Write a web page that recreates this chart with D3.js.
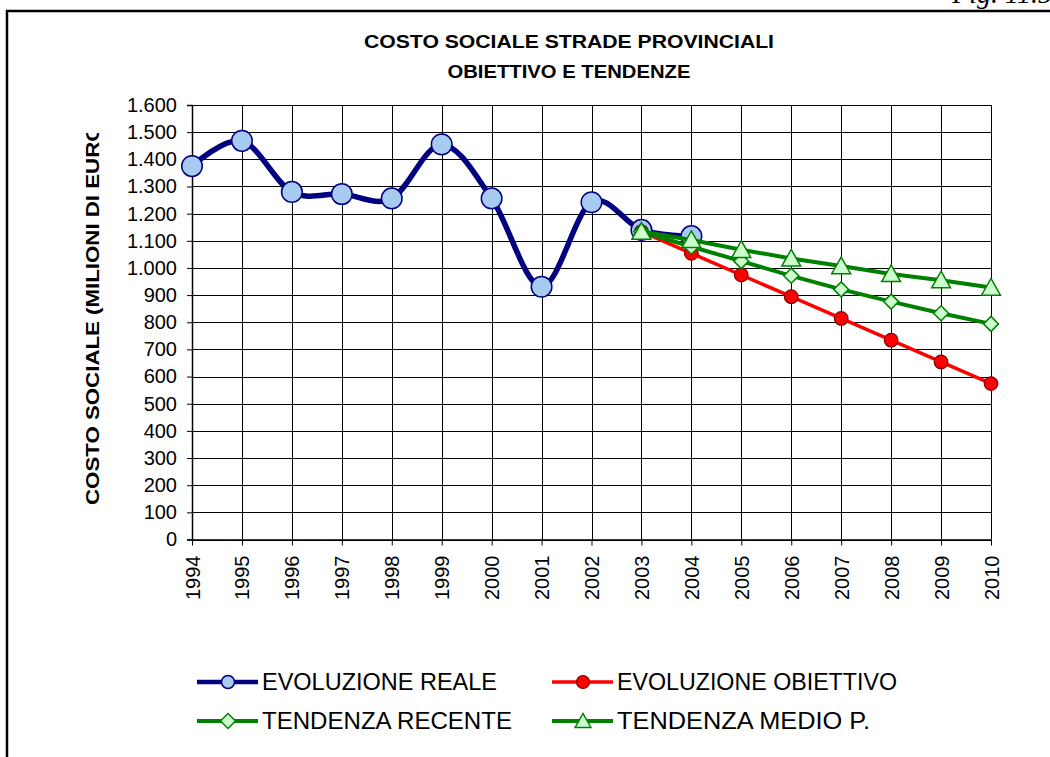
<!DOCTYPE html>
<html>
<head>
<meta charset="utf-8">
<script src="https://cdn.jsdelivr.net/npm/d3@7"></script>
<style>
  body { margin: 0; background: #fff; }
  svg { display: block; font-family: Arial, "Liberation Sans", sans-serif; }
</style>
</head>
<body>
<div id="chart"></div>
<script>
'use strict';

// Categories (x axis)
const years = ['1994', '1995', '1996', '1997', '1998', '1999', '2000', '2001', '2002',
  '2003', '2004', '2005', '2006', '2007', '2008', '2009', '2010'];

// Series values (milioni di euro)
const realeYears = ['1994', '1995', '1996', '1997', '1998', '1999', '2000', '2001', '2002', '2003', '2004'];
const realeValues = [1375, 1468, 1280, 1272, 1256, 1455, 1256, 931, 1242, 1140, 1117];

const forecastYears = ['2003', '2004', '2005', '2006', '2007', '2008', '2009', '2010'];
const obiettivoValues = [1134, 1054, 974, 894, 814, 734, 654, 574];
const recenteValues = [1134, 1078, 1025, 971, 921, 876, 833, 794];
const medioValues = [1134, 1103, 1067, 1035, 1007, 978, 955, 928];

const yTicks = [0, 100, 200, 300, 400, 500, 600, 700, 800, 900, 1000, 1100, 1200, 1300, 1400, 1500, 1600];

const titleLines = ['COSTO SOCIALE STRADE PROVINCIALI', 'OBIETTIVO E TENDENZE'];
const yAxisTitle = 'COSTO SOCIALE (MILIONI DI EURO)';
const legendNames = ['EVOLUZIONE REALE', 'EVOLUZIONE OBIETTIVO', 'TENDENZA RECENTE', 'TENDENZA MEDIO P.'];

const width = 1050;
const height = 757;

const svg = d3.select('#chart').append('svg')
  .attr('width', width)
  .attr('height', height);

// Italian number format: 1.600
const itLocale = d3.formatLocale({ decimal: ',', thousands: '.', grouping: [3], currency: ['', ' €'] });
const fmt = itLocale.format(',d');

// Scales
const x = d3.scalePoint().domain(years).range([192, 991]);
const y = d3.scaleLinear().domain([0, 1600]).range([539.5, 105]);

// Page frame and figure label (cut by the page top, as in the original)
svg.append('text')
  .attr('x', 1052)
  .attr('y', 3)
  .attr('text-anchor', 'end')
  .style('font-family', '"Liberation Serif", "DejaVu Serif", serif')
  .style('font-style', 'italic')
  .style('font-size', '28px')
  .text('Fig. 11.5');

svg.append('path')
  .attr('d', 'M7,' + height + 'V11H' + width)
  .attr('fill', 'none')
  .attr('stroke', '#000')
  .attr('stroke-width', 2.5);

// Title
svg.append('g').selectAll('text')
  .data(titleLines)
  .join('text')
  .attr('x', 569)
  .attr('y', (d, i) => 48 + i * 30)
  .attr('text-anchor', 'middle')
  .style('font-weight', 'bold')
  .style('font-size', '19px')
  .attr('textLength', (d, i) => i === 0 ? 410 : 243)
  .attr('lengthAdjust', 'spacingAndGlyphs')
  .text(d => d);

// Grid
const grid = svg.append('g').attr('class', 'grid');
grid.selectAll('line.h')
  .data(yTicks)
  .join('line')
  .attr('class', 'h')
  .attr('x1', x.range()[0])
  .attr('x2', x.range()[1])
  .attr('y1', d => Math.round(y(d)) + 0.5)
  .attr('y2', d => Math.round(y(d)) + 0.5)
  .attr('stroke', '#000')
  .attr('stroke-width', 1);
grid.selectAll('line.v')
  .data(years.slice(1))
  .join('line')
  .attr('class', 'v')
  .attr('x1', d => Math.round(x(d)) + 0.5)
  .attr('x2', d => Math.round(x(d)) + 0.5)
  .attr('y1', y(1600))
  .attr('y2', y(0))
  .attr('stroke', '#000')
  .attr('stroke-width', 1);

// Y axis
const yAxis = svg.append('g')
  .attr('transform', `translate(${x.range()[0]},0)`)
  .call(d3.axisLeft(y).tickValues(yTicks).tickFormat(fmt).tickSize(5).tickPadding(10));
yAxis.select('.domain').attr('stroke-width', 1.5);
yAxis.selectAll('text').style('font-size', '20px').attr('fill', '#000');

// X axis
const xAxis = svg.append('g')
  .attr('transform', `translate(0,${y(0)})`)
  .call(d3.axisBottom(x).tickSize(6).tickSizeOuter(0));
xAxis.select('.domain').attr('stroke-width', 1.5);
xAxis.selectAll('text')
  .style('font-size', '20px')
  .attr('fill', '#000')
  .attr('transform', 'rotate(-90)')
  .attr('text-anchor', 'end')
  .attr('x', -16)
  .attr('y', 0)
  .attr('dy', '0.35em');

// Y axis title (clipped at the top, as in the original)
svg.append('clipPath').attr('id', 'ytitle-clip')
  .append('rect').attr('x', 0).attr('y', 133).attr('width', 150).attr('height', 500);
svg.append('g')
  .attr('clip-path', 'url(#ytitle-clip)')
  .append('text')
  .attr('transform', 'translate(98.5,505) rotate(-90)')
  .attr('text-anchor', 'start')
  .style('font-weight', 'bold')
  .style('font-size', '18px')
  .attr('textLength', 388)
  .attr('lengthAdjust', 'spacingAndGlyphs')
  .text(yAxisTitle);

// Series
const smoothLine = d3.line().curve(d3.curveCardinal.tension(0));
const straightLine = d3.line();

function toPoints(cats, vals) {
  return cats.map((c, i) => [x(c), y(vals[i])]);
}

const diamond = s => `M0,${-s}L${s},0L0,${s}L${-s},0Z`;
const triangle = s => `M0,${-s}L${s * 1.05},${s * 0.85}L${-s * 1.05},${s * 0.85}Z`;

const series = [
  { name: legendNames[0], pts: toPoints(realeYears, realeValues), line: smoothLine, color: '#000080', width: 5.5,
    marker: { shape: 'circle', r: 10.3, fill: '#a6caf0', stroke: '#000080', sw: 1.5 } },
  { name: legendNames[1], pts: toPoints(forecastYears, obiettivoValues), line: straightLine, color: '#ff0000', width: 3.5,
    marker: { shape: 'circle', r: 6.8, fill: '#ff0000', stroke: '#800000', sw: 1.2 } },
  { name: legendNames[2], pts: toPoints(forecastYears, recenteValues), line: straightLine, color: '#008000', width: 4,
    marker: { shape: 'diamond', r: 7.5, fill: '#ccffcc', stroke: '#008000', sw: 1.5 } },
  { name: legendNames[3], pts: toPoints(forecastYears, medioValues), line: straightLine, color: '#008000', width: 4,
    marker: { shape: 'triangle', r: 9, fill: '#ccffcc', stroke: '#008000', sw: 1.5 } }
];

function drawMarker(g, m) {
  if (m.shape === 'circle') {
    g.append('circle').attr('r', m.r);
  } else if (m.shape === 'diamond') {
    g.append('path').attr('d', diamond(m.r));
  } else {
    g.append('path').attr('d', triangle(m.r));
  }
  g.selectAll('circle, path')
    .attr('fill', m.fill)
    .attr('stroke', m.stroke)
    .attr('stroke-width', m.sw);
}

series.forEach(s => {
  const g = svg.append('g');
  g.append('path')
    .attr('d', s.line(s.pts))
    .attr('fill', 'none')
    .attr('stroke', s.color)
    .attr('stroke-width', s.width)
    .attr('stroke-linejoin', 'round');
  g.selectAll('g.marker')
    .data(s.pts)
    .join('g')
    .attr('class', 'marker')
    .attr('transform', d => `translate(${d[0]},${d[1]})`)
    .each(function () { drawMarker(d3.select(this), s.marker); });
});

// Legend
const legendPos = [[197, 682], [552, 682], [197, 721], [552, 721]];
const legendWidths = [235, 280, 250, 253];
series.forEach((s, i) => {
  const lg = svg.append('g').attr('transform', `translate(${legendPos[i][0]},${legendPos[i][1]})`);
  lg.append('line')
    .attr('x1', 0).attr('x2', 61)
    .attr('stroke', s.color)
    .attr('stroke-width', Math.min(s.width, 4.5));
  const mg = lg.append('g').attr('transform', 'translate(31,0)');
  drawMarker(mg, Object.assign({}, s.marker, { r: s.marker.shape === 'circle' ? 6.5 : 7.5 }));
  lg.append('text')
    .attr('x', 65)
    .attr('y', 0)
    .attr('dy', '0.36em')
    .style('font-size', '23px')
    .attr('textLength', legendWidths[i])
    .attr('lengthAdjust', 'spacingAndGlyphs')
    .text(s.name);
});
</script>
</body>
</html>
